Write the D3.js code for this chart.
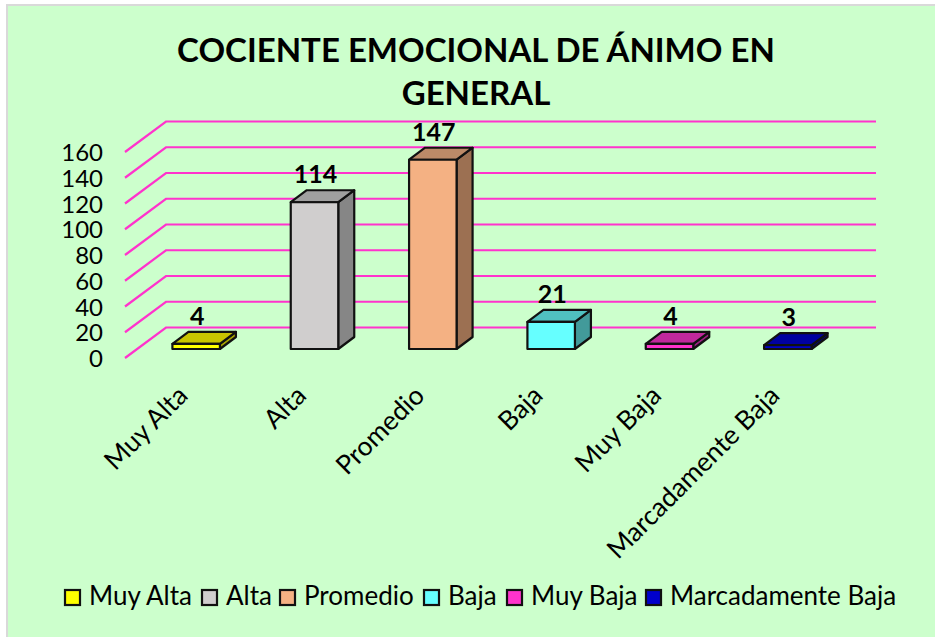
<!DOCTYPE html>
<html><head><meta charset="utf-8">
<style>html,body{margin:0;padding:0;background:#fff}svg{display:block}text{font-family:Lato,"Open Sans",sans-serif;fill:#000}</style>
<script src="https://cdn.jsdelivr.net/npm/d3@7"></script></head><body><div id="c"></div>
<script>
const categories=["Muy Alta","Alta","Promedio","Baja","Muy Baja","Marcadamente Baja"];
const values=[4,114,147,21,4,3];
const frontColors=["#ffff00","#d0cece","#f4b183","#66ffff","#ff33cc","#0000cc"];
const topColors=["#c8c400","#a0a0a0","#bc8a68","#50c0c0","#c0289c","#0000a0"];
const sideColors=["#a8a400","#868686","#9c7052","#429a9a","#9c2080","#000080"];
const yTicks=[0,20,40,60,80,100,120,140,160];
const titleLines=["COCIENTE EMOCIONAL DE ÁNIMO EN","GENERAL"];
const legendX=[65,202,280,424,507,646];

const W=935,H=637;
const svg=d3.select("#c").append("svg").attr("width",W).attr("height",H);
svg.append("rect").attr("x",7).attr("y",5).attr("width",W).attr("height",H).attr("fill","#ccffcc").attr("stroke","#d9d9d9").attr("stroke-width",2);

const x=d3.scaleBand().domain(categories).range([125,835]);
const y=d3.scaleLinear().domain([0,160]).range([358,152]);
const depthX=41,depthY=-30.5;
const barDX=16,barDY=-12,barOffX=12,barOffY=-9;
const barW=47.5;

svg.append("g").selectAll("path").data(yTicks).join("path")
 .attr("d",t=>`M${x.range()[0]},${y(t)}L${x.range()[0]+depthX},${y(t)+depthY}H${x.range()[1]+depthX}`)
 .attr("fill","none").attr("stroke","#ff33cc").attr("stroke-width",2.2);

svg.append("g").selectAll("text").data(yTicks).join("text")
 .attr("x",103).attr("y",t=>y(t)+9).attr("text-anchor","end").attr("font-size",24).text(t=>t);

const bars=svg.append("g").selectAll("g").data(categories).join("g")
 .attr("stroke","#111").attr("stroke-width",2.2).attr("stroke-linejoin","round");
const X0=c=>x(c)+x.bandwidth()/2+barOffX-barW/2;
const Y0=y(0)+barOffY;
const Yt=(i)=>y(values[i])+barOffY;
bars.append("path").attr("fill",(c,i)=>sideColors[i])
 .attr("d",(c,i)=>{const a=X0(c)+barW;return `M${a},${Y0}L${a+barDX},${Y0+barDY}V${Yt(i)+barDY}L${a},${Yt(i)}Z`});
bars.append("path").attr("fill",(c,i)=>topColors[i])
 .attr("d",(c,i)=>{const a=X0(c);return `M${a},${Yt(i)}L${a+barDX},${Yt(i)+barDY}H${a+barW+barDX}L${a+barW},${Yt(i)}Z`});
bars.append("rect").attr("fill",(c,i)=>frontColors[i])
 .attr("x",c=>X0(c)).attr("y",(c,i)=>Yt(i)).attr("width",barW).attr("height",(c,i)=>Y0-Yt(i));

svg.append("g").selectAll("text").data(categories).join("text")
 .attr("x",c=>X0(c)+barW/2+1).attr("y",(c,i)=>Yt(i)-19)
 .attr("text-anchor","middle").attr("font-size",25).attr("font-weight",700).text((c,i)=>values[i]);

svg.append("g").selectAll("text").data(categories).join("text")
 .attr("text-anchor","end").attr("font-size",26.5)
 .attr("transform",c=>`translate(${x(c)+x.bandwidth()/2-6},386) rotate(-45)`)
 .attr("dy","0.6em").text(c=>c);

svg.append("g").selectAll("text").data(titleLines).join("text")
 .attr("x",476).attr("y",(d,i)=>62+i*43).attr("text-anchor","middle")
 .attr("font-size",33).attr("font-weight",700).text(d=>d);

const lg=svg.append("g").selectAll("g").data(categories).join("g")
 .attr("transform",(c,i)=>`translate(${legendX[i]},590)`);
lg.append("rect").attr("width",15).attr("height",15).attr("fill",(c,i)=>frontColors[i]).attr("stroke","#111").attr("stroke-width",2.2);
lg.append("text").attr("x",24).attr("y",15).attr("font-size",26).text(c=>c);
</script></body></html>
